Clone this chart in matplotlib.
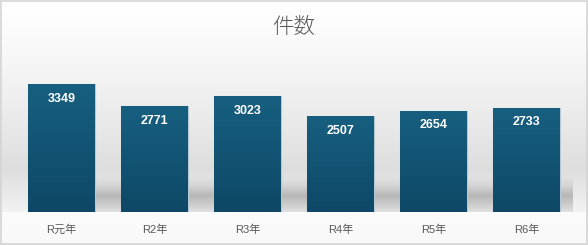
import numpy as np
import matplotlib
matplotlib.use("Agg")
import matplotlib.pyplot as plt
from matplotlib.colors import LinearSegmentedColormap
from matplotlib.patches import Rectangle

categories = ["R元年", "R2年", "R3年", "R4年", "R5年", "R6年"]
counts = [3349, 2771, 3023, 2507, 2654, 2733]
title = "件数"

W, H, DPI = 588, 245, 100
fig = plt.figure(figsize=(W / DPI, H / DPI), dpi=DPI)

# figure background: vertical grey gradient
bg = fig.add_axes([0, 0, 1, 1], zorder=-10)
bg.set_axis_off()
rows = np.linspace(0, 1, H)  # 0 = top
def bg_val(t):
    py = t * H
    if py < 170:
        return 1.0 - (1.0 - 0.87) * (py / 170) ** 1.3
    if py < 212:
        return 0.87 + (0.95 - 0.87) * (py - 170) / 42
    return 0.985 - 0.01 * (py - 212) / 33
vals = np.array([bg_val(t) for t in rows])
col = np.repeat(vals[:, None], 2, axis=1)
img = np.stack([col, col, col], axis=-1)
bg.imshow(img, aspect="auto", extent=[0, 1, 0, 1], interpolation="bilinear")
bg.set_xlim(0, 1)
bg.set_ylim(0, 1)
bg.add_patch(Rectangle((0.002, 0.004), 0.996, 0.99, transform=bg.transAxes,
                       fill=False, edgecolor="#d4d4d4", linewidth=1.2))

# plot area
left, right = 15 / W, 573 / W
bottom = 33 / H
ymax = 4000
px_per_unit = 128 / 3349
height = ymax * px_per_unit / H
ax = fig.add_axes([left, bottom, right - left, height])
ax.patch.set_alpha(0)
x = np.arange(len(categories))
ax.set_xlim(-0.5, len(categories) - 0.5)
ax.set_ylim(0, ymax)
for s in ax.spines.values():
    s.set_visible(False)
ax.set_yticks([])
ax.set_xticks(x)
ax.set_xticklabels(categories, family=["Liberation Sans", "Noto Sans CJK JP"],
                   fontsize=8, color="#595959")
ax.tick_params(axis="x", length=0, pad=9)

# floor shadow behind the bars
bar_w = 0.71
shadow_top = (212 - 176) / px_per_unit
sy = np.linspace(0, 1, 60)  # 0 = bottom
alpha = np.where(sy < 0.45, 0.18 + (0.55 - 0.18) * (sy / 0.45),
                 0.55 * np.clip(1 - (sy - 0.45) / 0.55, 0, 1) ** 1.5)
sh = np.zeros((60, 2, 4))
sh[..., :3] = 0.55
sh[..., 3] = alpha[::-1, None]
ax.imshow(sh, aspect="auto", extent=[-bar_w / 2, len(categories) - 0.5, 0, shadow_top],
          interpolation="bilinear", zorder=1)

# bars with vertical blue gradient
bars = ax.bar(x, counts, width=bar_w, color="#135676", edgecolor="#b5c8d4",
              linewidth=0.8, zorder=2)
cmap = LinearSegmentedColormap.from_list("barblue", ["#0e4866", "#175f80"])
grad = np.linspace(0, 1, 100)[::-1, None]
for b, v in zip(bars, counts):
    x0 = b.get_x()
    im = ax.imshow(grad, cmap=cmap, aspect="auto",
                   extent=[x0, x0 + b.get_width(), 0, v], zorder=2.5,
                   interpolation="bilinear")
    im.set_clip_path(b)
    ax.annotate(f"{v}", xy=(b.get_x() + b.get_width() / 2, v), xytext=(0, -10.5),
                textcoords="offset points", ha="center", va="center",
                color="white", fontsize=9, fontweight="bold",
                family="Liberation Sans", zorder=4)
ax.set_xlim(-0.5, len(categories) - 0.5)
ax.set_ylim(0, ymax)

fig.text(0.5, 1 - 27 / H, title, ha="center", va="center", fontsize=15.5,
         color="#595959", family=["Noto Sans CJK JP", "DejaVu Sans"], fontweight="light")

fig.savefig("out.png", dpi=DPI)
